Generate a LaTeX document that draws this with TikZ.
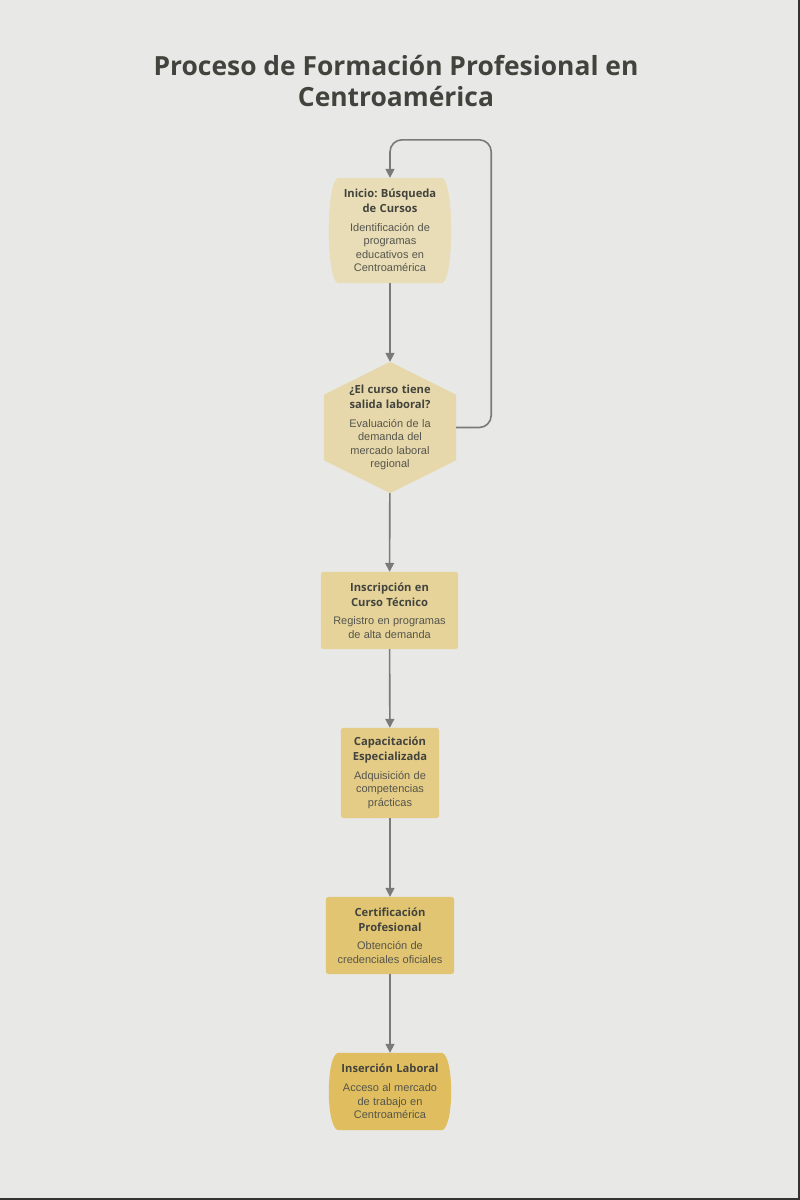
\documentclass[tikz,border=0pt]{standalone}
\usepackage{fontspec}
\setmainfont{Liberation Sans}
\newfontfamily\headfont{Open Sans}
\usetikzlibrary{arrows.meta, positioning, calc, backgrounds}

\definecolor{bgcol}{HTML}{E8E8E6}
\definecolor{txtcol}{HTML}{43433E}
\definecolor{desccol}{HTML}{55554D}
\definecolor{linecol}{HTML}{7A7A78}
\definecolor{fillA}{HTML}{E8DDB6}
\definecolor{fillB}{HTML}{E6D8AA}
\definecolor{fillC}{HTML}{E5D39A}
\definecolor{fillD}{HTML}{E4CC86}
\definecolor{fillE}{HTML}{E2C572}
\definecolor{fillF}{HTML}{E0BE5F}

% texto de un paso: titulo en negrita y descripcion debajo
\newcommand{\paso}[2]{{\headfont\bfseries\fontsize{11.2}{15}\selectfont\color{txtcol}#1\par}\vspace{5pt}{\fontsize{11}{13.6}\selectfont\color{desccol}#2\par}}

\begin{document}
\frenchspacing
\begin{tikzpicture}[
        x=1pt, y=-1pt,
        arr/.style={-{Triangle[length=9pt, width=9pt]}, line width=1.6pt, draw=linecol},
        stepbox/.style={rectangle, align=center, inner sep=0pt},
        boxfill/.style={rounded corners=3pt},
    ]

    \useasboundingbox (0,0) rectangle (800,1200);

    %% ---- titulo ----
    \node[font=\headfont\bfseries\fontsize{26.4}{31}\selectfont, text=txtcol, align=center]
        (title) at (396, 81) {Proceso de Formación Profesional en\\Centroamérica};

    %% ---- pasos ----
    \node[stepbox, text width=124pt, minimum height=105pt] (inicio) at (390, 230.5)
        {\paso{Inicio: Búsqueda\\de Cursos}{Identificación de\\programas\\educativos en\\Centroamérica}};
    \node[stepbox, text width=132pt, minimum height=131pt] (salida) at (390, 427.5)
        {\paso{¿El curso tiene\\salida laboral?}{Evaluación de la\\demanda del\\mercado laboral\\regional}};
    \node[stepbox, text width=137pt, minimum height=77pt] (inscripcion) at (389.5, 610.5)
        {\paso{Inscripción en\\Curso Técnico}{Registro en programas\\de alta demanda}};
    \node[stepbox, text width=98pt, minimum height=90pt] (capacitacion) at (390, 773)
        {\paso{Capacitación\\Especializada}{Adquisición de\\competencias\\prácticas}};
    \node[stepbox, text width=128pt, minimum height=77pt] (certificacion) at (390, 935.5)
        {\paso{Certificación\\Profesional}{Obtención de\\credenciales oficiales}};
    \node[stepbox, text width=124pt, minimum height=77pt] (insercion) at (390, 1091.5)
        {\paso{Inserción Laboral}{Acceso al mercado\\de trabajo en\\Centroamérica}};

    %% ---- fondo y formas ----
    \begin{pgfonlayer}{background}
        \fill[bgcol] (0,0) rectangle (800,1200);
        \draw[black!80, line width=1.5pt] (0,1199) -- (799,1199) -- (799,0);
        % inicio y final: lados curvos
        \foreach \n/\c in {inicio/fillA, insercion/fillF} {
            \fill[\c] ([xshift=10pt]\n.north west) -- ([xshift=-10pt]\n.north east)
                .. controls ([xshift=2pt, yshift=-4pt]\n.north east) and ([xshift=2pt, yshift=4pt]\n.south east) .. ([xshift=-10pt]\n.south east)
                -- ([xshift=10pt]\n.south west)
                .. controls ([xshift=-2pt, yshift=4pt]\n.south west) and ([xshift=-2pt, yshift=-4pt]\n.north west) .. cycle;
        }
        % decision: hexagono
        \fill[fillB] (salida.north) -- ([yshift=-33pt]salida.north east) -- ([yshift=33pt]salida.south east)
            -- (salida.south) -- ([yshift=33pt]salida.south west) -- ([yshift=-33pt]salida.north west) -- cycle;
        % rectangulos
        \fill[boxfill, fillC] (inscripcion.north west) rectangle (inscripcion.south east);
        \fill[boxfill, fillD] (capacitacion.north west) rectangle (capacitacion.south east);
        \fill[boxfill, fillE] (certificacion.north west) rectangle (certificacion.south east);
    \end{pgfonlayer}

    %% ---- flechas ----
    \draw[arr] (inicio) -- (salida);
    \draw[arr] (salida) -- (inscripcion);
    \draw[arr] (inscripcion) -- (capacitacion);
    \draw[arr] (capacitacion) -- (certificacion);
    \draw[arr] (certificacion) -- (insercion);

    % vuelta al inicio
    \draw[arr, rounded corners=12pt] (salida.east) -- ++(35,0) |- ([yshift=38pt]inicio.north) -- (inicio.north);

\end{tikzpicture}
\end{document}
